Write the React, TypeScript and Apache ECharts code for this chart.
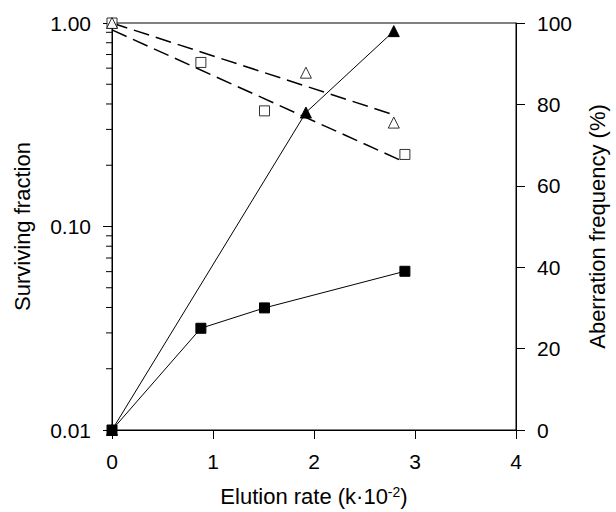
import React, { useEffect, useRef } from "react";
import * as echarts from "echarts";

// Surviving fraction (left, log axis) - open markers
const survTriX = [0, 1.92, 2.79];
const survTriY = [1.0, 0.57, 0.324];
const survSqX = [0, 0.88, 1.51, 2.9];
const survSqY = [1.0, 0.64, 0.37, 0.226];
// Fitted dashed lines
const fitTri = [[0, 1.0], [2.79, 0.354]];
const fitSq = [[0, 0.925], [2.9, 0.207]];
// Aberration frequency (right axis, %) - filled markers
const abTriX = [0, 1.92, 2.79];
const abTriY = [0, 78, 98];
const abSqX = [0, 0.88, 1.51, 2.9];
const abSqY = [0, 25, 30, 39];
// Log minor tick values
const minorTicks = [0.02, 0.03, 0.04, 0.05, 0.06, 0.07, 0.08, 0.09, 0.2, 0.3, 0.4, 0.5, 0.6, 0.7, 0.8, 0.9];
const xTicks = [0, 1, 2, 3, 4];

const FONT = "'Liberation Sans', Arial, sans-serif";
const LBL = 21;
const TTL = 22;

export default function App() {
  const ref = useRef<HTMLDivElement>(null);
  useEffect(() => {
    if (!ref.current) return;
    const chart = echarts.init(ref.current, null, { renderer: "svg" });
    const zip = (xs: number[], ys: number[]) => xs.map((x, i) => [x, ys[i]]);
    chart.setOption({
      animation: false,
      backgroundColor: "#fff",
      textStyle: { fontFamily: FONT, color: "#000" },
      grid: { left: 112, right: 92, top: 23, bottom: 78, show: true, borderColor: "#000", borderWidth: 1 },
      xAxis: {
        type: "value",
        min: xTicks[0],
        max: xTicks[xTicks.length - 1],
        interval: 1,
        name: "{a|Elution rate (k·10}{s|-2}{a|)}",
        nameLocation: "middle",
        nameGap: 55,
        nameTextStyle: {
          rich: {
            a: { fontSize: TTL, fontFamily: FONT, color: "#000" },
            s: { fontSize: 14, fontFamily: FONT, color: "#000", verticalAlign: "top", padding: [0, 0, 8, 0] },
          },
        },
        axisLine: { lineStyle: { color: "#000", width: 1 } },
        axisTick: { inside: false, length: 9, lineStyle: { color: "#000" } },
        axisLabel: { fontSize: LBL, color: "#000", margin: 21, fontFamily: FONT },
        splitLine: { show: false },
      },
      yAxis: [
        {
          type: "log",
          logBase: 10,
          min: 0.01,
          max: 1,
          position: "left",
          name: "Surviving fraction",
          nameLocation: "middle",
          nameGap: 79,
          nameRotate: 90,
          nameTextStyle: { fontSize: TTL, color: "#000", fontFamily: FONT },
          axisLine: { show: true, lineStyle: { color: "#000", width: 1 } },
          axisTick: { length: 9, lineStyle: { color: "#000" } },
          axisLabel: { fontSize: LBL, color: "#000", margin: 21, fontFamily: FONT, formatter: (v: number) => v.toFixed(2) },
          splitLine: { show: false },
        },
        {
          type: "value",
          min: 0,
          max: 100,
          interval: 20,
          position: "right",
          name: "Aberration frequency (%)",
          nameLocation: "middle",
          nameGap: 70,
          nameRotate: 90,
          nameTextStyle: { fontSize: TTL, color: "#000", fontFamily: FONT },
          axisLine: { show: true, lineStyle: { color: "#000", width: 1 } },
          axisTick: { length: 9, lineStyle: { color: "#000" } },
          axisLabel: { fontSize: LBL, color: "#000", margin: 21, fontFamily: FONT },
          splitLine: { show: false },
        },
      ],
      series: [
        {
          type: "custom",
          yAxisIndex: 0,
          silent: true,
          clip: false,
          data: minorTicks.map((v) => [0, v]),
          renderItem: (params: any, api: any) => {
            const p = api.coord([0, api.value(1)]);
            return {
              type: "line",
              shape: { x1: p[0] - 6, y1: p[1], x2: p[0], y2: p[1] },
              style: { stroke: "#000", lineWidth: 1 },
            };
          },
        },
        {
          type: "line",
          yAxisIndex: 0,
          data: fitTri,
          symbol: "none",
          lineStyle: { color: "#000", width: 1.5, type: [16, 7] },
          z: 2,
        },
        {
          type: "line",
          yAxisIndex: 0,
          data: fitSq,
          symbol: "none",
          lineStyle: { color: "#000", width: 1.5, type: [16, 7] },
          z: 2,
        },
        {
          type: "scatter",
          yAxisIndex: 0,
          data: zip(survSqX, survSqY),
          symbol: "rect",
          symbolSize: 10,
          itemStyle: { color: "#fff", borderColor: "#000", borderWidth: 1 },
          z: 3,
        },
        {
          type: "scatter",
          yAxisIndex: 0,
          data: zip(survTriX, survTriY),
          symbol: "triangle",
          symbolSize: 11,
          itemStyle: { color: "#fff", borderColor: "#000", borderWidth: 1 },
          z: 4,
        },
        {
          type: "line",
          yAxisIndex: 1,
          data: zip(abTriX, abTriY),
          symbol: "triangle",
          symbolSize: 11,
          showAllSymbol: true,
          lineStyle: { color: "#000", width: 1 },
          itemStyle: { color: "#000", borderColor: "#000" },
          z: 5,
        },
        {
          type: "line",
          yAxisIndex: 1,
          data: zip(abSqX, abSqY),
          symbol: "rect",
          symbolSize: 10,
          showAllSymbol: true,
          lineStyle: { color: "#000", width: 1 },
          itemStyle: { color: "#000", borderColor: "#000" },
          z: 6,
        },
      ],
    });
    return () => chart.dispose();
  }, []);
  return <div ref={ref} style={{ position: "fixed", left: 0, top: 0, width: 616, height: 512 }} />;
}
